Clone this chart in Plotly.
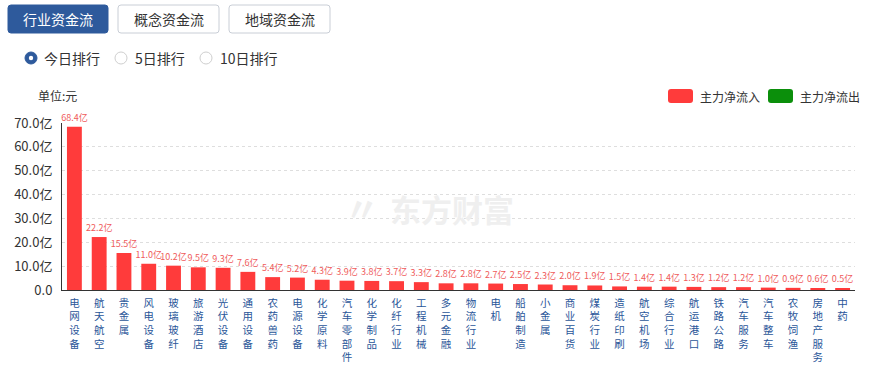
import plotly.graph_objects as go

categories = ["电网设备", "航天航空", "贵金属", "风电设备", "玻璃玻纤", "旅游酒店", "光伏设备",
              "通用设备", "农药兽药", "电源设备", "化学原料", "汽车零部件", "化学制品", "化纤行业",
              "工程机械", "多元金融", "物流行业", "电机", "船舶制造", "小金属", "商业百货", "煤炭行业",
              "造纸印刷", "航空机场", "综合行业", "航运港口", "铁路公路", "汽车服务", "汽车整车",
              "农牧饲渔", "房地产服务", "中药"]
inflow = [68.4, 22.2, 15.5, 11.0, 10.2, 9.5, 9.3, 7.6, 5.4, 5.2, 4.3, 3.9, 3.8, 3.7, 3.3,
          2.8, 2.8, 2.7, 2.5, 2.3, 2.0, 1.9, 1.5, 1.4, 1.4, 1.3, 1.2, 1.2, 1.0, 0.9, 0.6, 0.5]
y_tickvals = [0, 10, 20, 30, 40, 50, 60, 70]
y_ticktext = ["0.0", "10.0亿", "20.0亿", "30.0亿", "40.0亿", "50.0亿", "60.0亿", "70.0亿"]
tabs = ["行业资金流", "概念资金流", "地域资金流"]
radios = ["今日排行", "5日排行", "10日排行"]
legend_names = ["主力净流入", "主力净流出"]

W, H = 870, 365
L, R, T, B = 62, 855, 123, 290
FONT = "Noto Sans CJK SC, Microsoft YaHei, sans-serif"
RED = "#ff3b3b"
GREEN = "#0b8f0b"
BLUE = "#2e5a9c"


def px(x):
    return (x - L) / (R - L)


def py(y):
    return (B - y) / (B - T)


def rrect(x0, y0, x1, y1, r):
    pts = [
        f"M {px(x0 + r)} {py(y0)}",
        f"L {px(x1 - r)} {py(y0)}",
        f"Q {px(x1)} {py(y0)} {px(x1)} {py(y0 + r)}",
        f"L {px(x1)} {py(y1 - r)}",
        f"Q {px(x1)} {py(y1)} {px(x1 - r)} {py(y1)}",
        f"L {px(x0 + r)} {py(y1)}",
        f"Q {px(x0)} {py(y1)} {px(x0)} {py(y1 - r)}",
        f"L {px(x0)} {py(y0 + r)}",
        f"Q {px(x0)} {py(y0)} {px(x0 + r)} {py(y0)}",
        "Z",
    ]
    return " ".join(pts)


fig = go.Figure()
fig.add_trace(go.Bar(
    x=categories, y=inflow, name=legend_names[0],
    marker=dict(color=RED, line=dict(width=0)),
    text=[f"{v:.1f}亿" for v in inflow],
    textposition="outside",
    textfont=dict(size=9, color="#ef5b5b", family=FONT),
    constraintext="none",
    cliponaxis=False,
    hoverinfo="x+y",
    showlegend=False,
))

shapes = []
annotations = []

# watermark
annotations.append(dict(xref="paper", yref="paper", x=px(452), y=py(208), text="<b>东方财富</b>",
                        showarrow=False, font=dict(size=31, color="#efefef", family=FONT),
                        xanchor="center", yanchor="middle"))
annotations.append(dict(xref="paper", yref="paper", x=px(362), y=py(207), text="<b>〃</b>",
                        showarrow=False, font=dict(size=34, color="#efefef", family=FONT),
                        xanchor="center", yanchor="middle"))

# tabs
tab_x = [(8, 108), (118, 219), (229, 330)]
for i, (name, (x0, x1)) in enumerate(zip(tabs, tab_x)):
    active = i == 0
    shapes.append(dict(type="path", xref="paper", yref="paper", path=rrect(x0, 5, x1, 33, 3),
                       fillcolor=BLUE if active else "white",
                       line=dict(color=BLUE if active else "#c9ced6", width=1), layer="above"))
    annotations.append(dict(xref="paper", yref="paper", x=px((x0 + x1) / 2), y=py(19.5), text=name,
                            showarrow=False, xanchor="center", yanchor="middle",
                            font=dict(size=14, color="white" if active else "#333333", family=FONT)))

# radios
radio_c = [31, 121, 206]
radio_t = [42, 133, 218]
for i, (name, cx, tx) in enumerate(zip(radios, radio_c, radio_t)):
    if i == 0:
        shapes.append(dict(type="circle", xref="paper", yref="paper",
                           x0=px(cx - 6), x1=px(cx + 6), y0=py(58 - 6), y1=py(58 + 6),
                           fillcolor=BLUE, line=dict(color=BLUE, width=1)))
        shapes.append(dict(type="circle", xref="paper", yref="paper",
                           x0=px(cx - 2.2), x1=px(cx + 2.2), y0=py(58 - 2.2), y1=py(58 + 2.2),
                           fillcolor="white", line=dict(color="white", width=0)))
    else:
        shapes.append(dict(type="circle", xref="paper", yref="paper",
                           x0=px(cx - 6), x1=px(cx + 6), y0=py(58 - 6), y1=py(58 + 6),
                           fillcolor="white", line=dict(color="#cfcfcf", width=1)))
    annotations.append(dict(xref="paper", yref="paper", x=px(tx), y=py(58.5), text=name,
                            showarrow=False, xanchor="left", yanchor="middle",
                            font=dict(size=14, color="#333333", family=FONT)))

# unit label
annotations.append(dict(xref="paper", yref="paper", x=px(36), y=py(95), text="单位:元",
                        showarrow=False, xanchor="left", yanchor="middle",
                        font=dict(size=12, color="#333333", family=FONT)))

# legend
leg = [(668, 698, RED), (768, 798, GREEN)]
for name, (x0, tx, col) in zip(legend_names, leg):
    shapes.append(dict(type="path", xref="paper", yref="paper", path=rrect(x0, 89, x0 + 25, 103, 3),
                       fillcolor=col, line=dict(color=col, width=0)))
    annotations.append(dict(xref="paper", yref="paper", x=px(tx), y=py(96), text=name,
                            showarrow=False, xanchor="left", yanchor="middle",
                            font=dict(size=12, color="#333333", family=FONT)))

x_ticktext = ["<br>".join(c) for c in categories]

fig.update_layout(
    width=W, height=H,
    margin=dict(l=L, r=W - R, t=T, b=H - B, pad=0),
    paper_bgcolor="white", plot_bgcolor="white",
    bargap=0.4,
    font=dict(family=FONT, color="#333333"),
    shapes=shapes, annotations=annotations,
    showlegend=False,
    xaxis=dict(tickvals=categories, ticktext=x_ticktext, tickangle=0,
               tickfont=dict(size=10.5, color="#2a5699", family=FONT),
               showgrid=False, showline=True, linecolor="#333333", ticklabelstandoff=3,
               linewidth=1, ticks="", fixedrange=True, zeroline=False, automargin=False),
    yaxis=dict(range=[0, 70], tickvals=y_tickvals, ticktext=y_ticktext, showgrid=True,
               gridcolor="#dedede", griddash="dot", gridwidth=1, showline=True,
               linecolor="#333333", linewidth=1, ticks="", zeroline=False,
               tickfont=dict(size=13, color="#333333", family=FONT), ticklabelstandoff=6,
               fixedrange=True, automargin=False),
)

fig.write_html("out.html", config={"displayModeBar": False},
               post_script="document.body.style.margin='0';document.body.style.padding='0';")
